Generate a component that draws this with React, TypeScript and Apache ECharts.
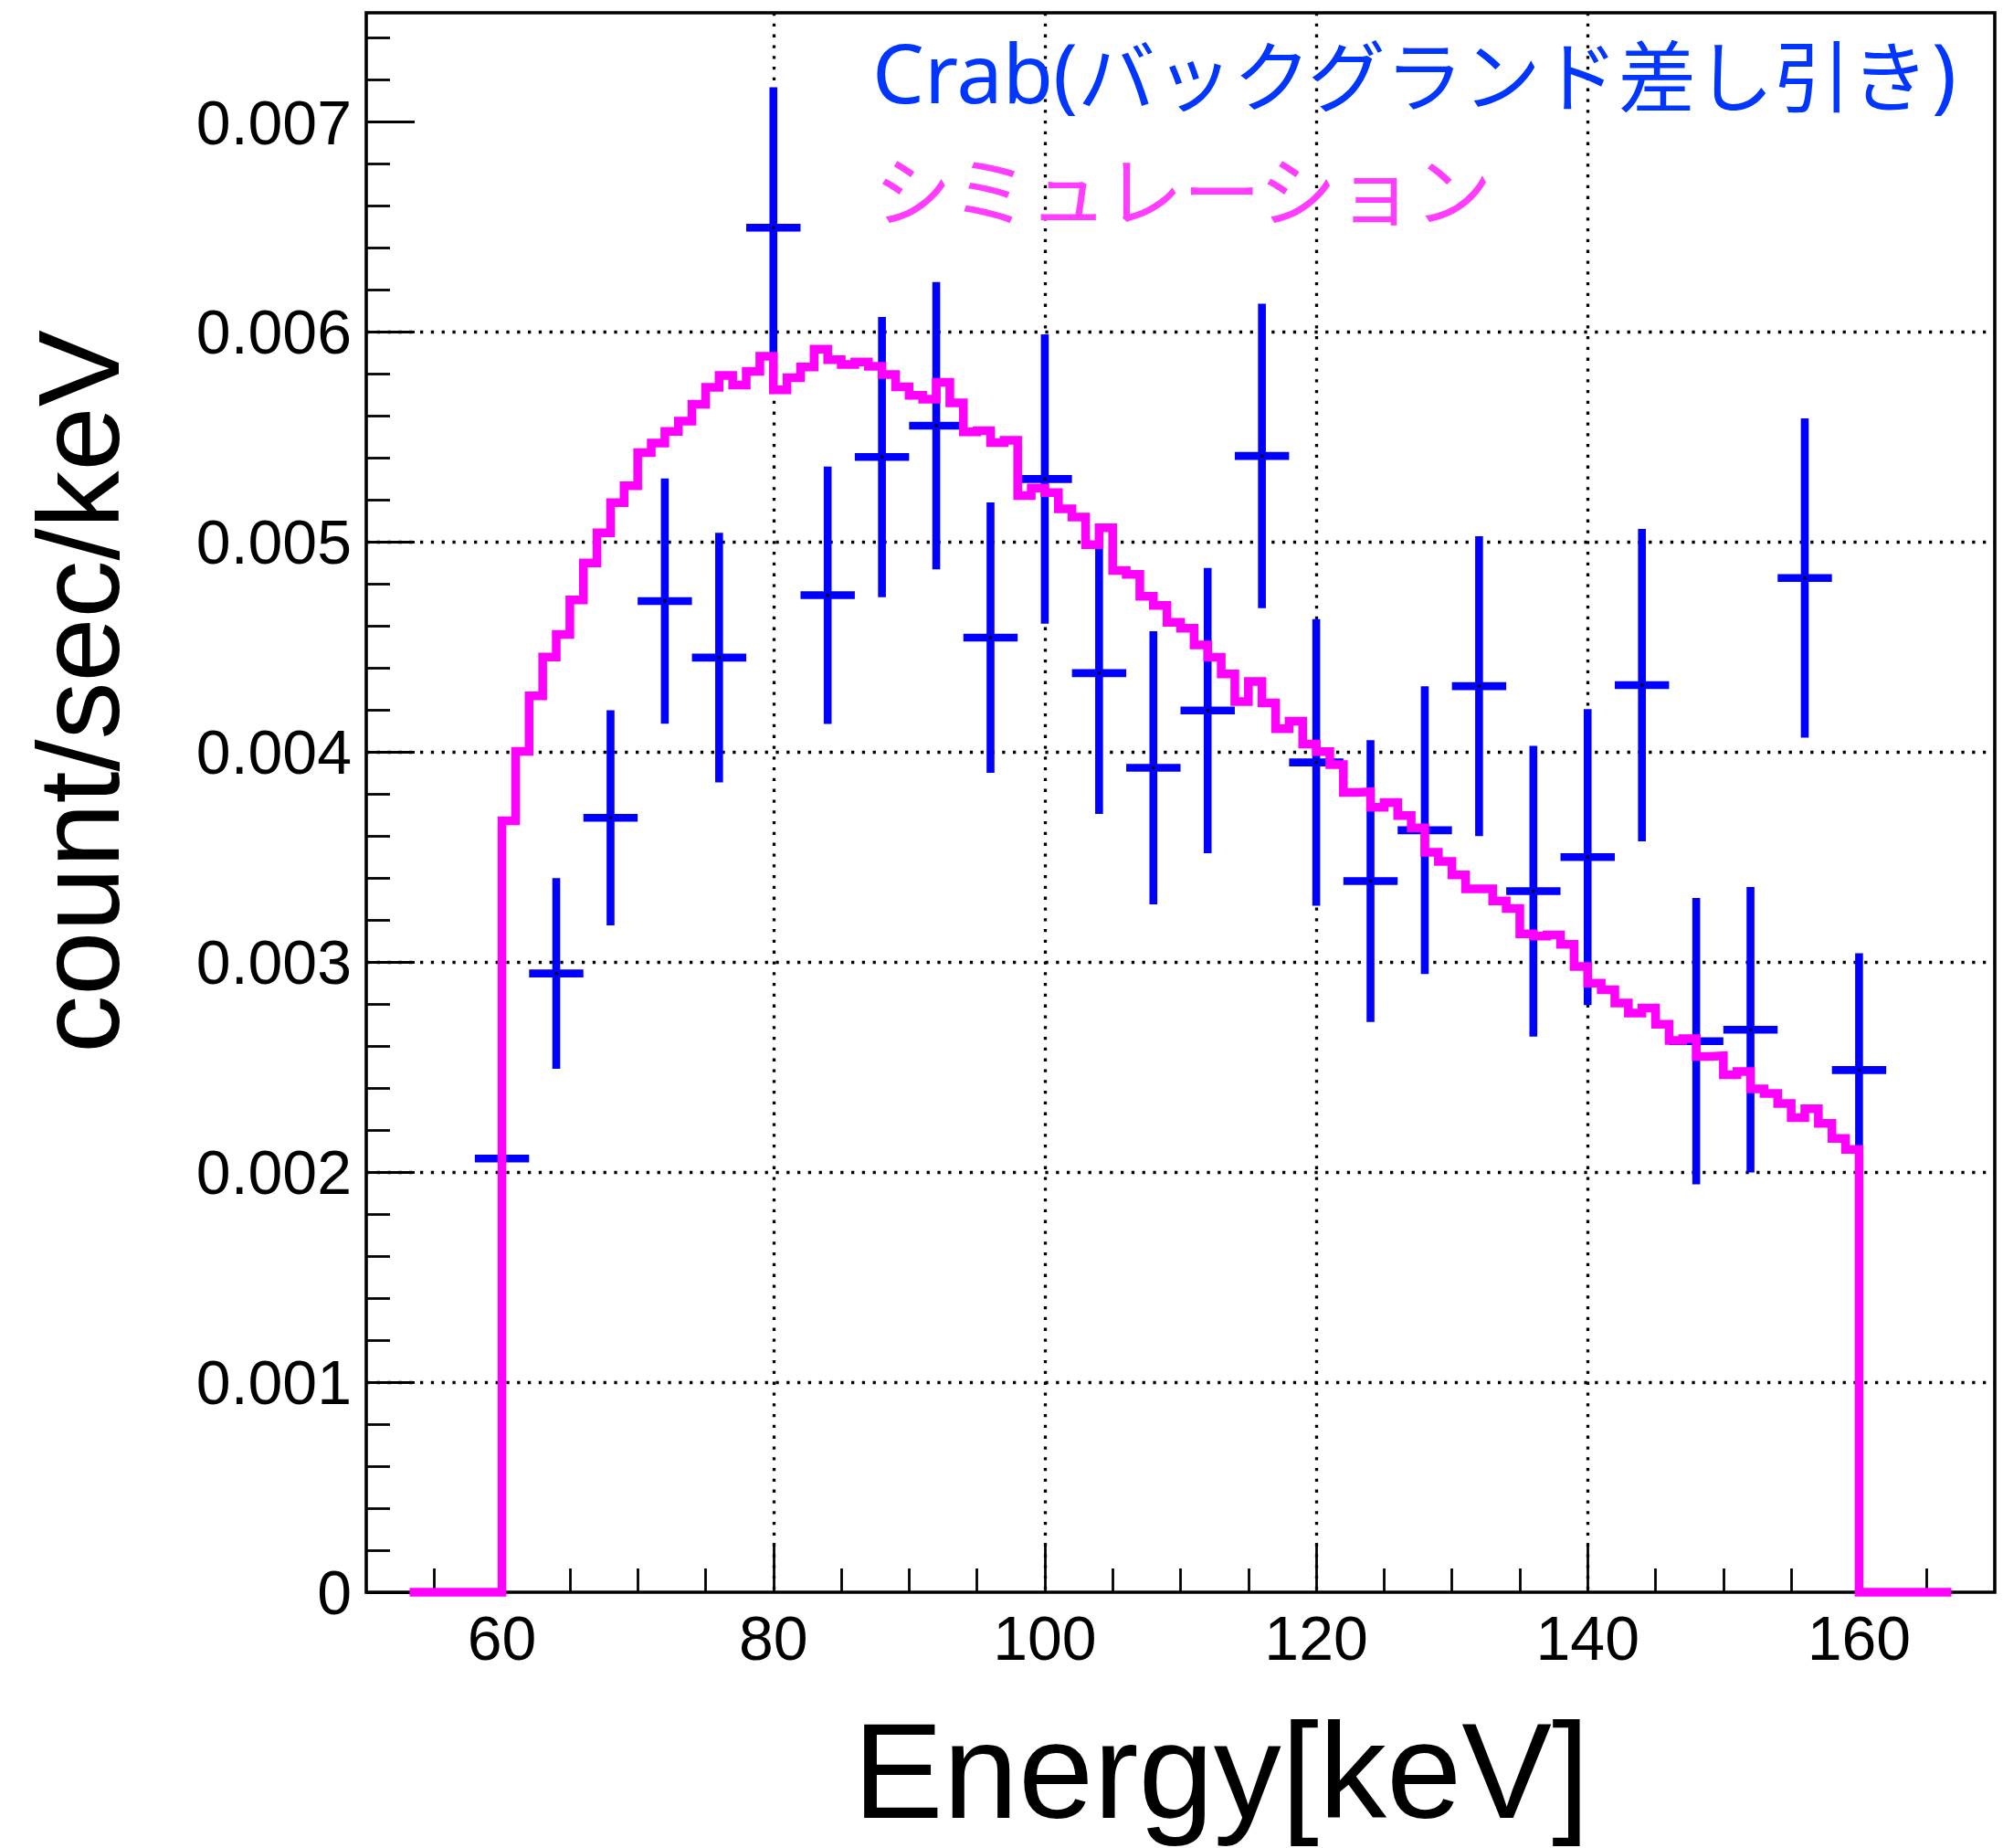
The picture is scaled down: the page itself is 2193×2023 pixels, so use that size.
import React, { useEffect, useRef } from "react";
import * as echarts from "echarts";

// Crab (background subtracted): bin centres [keV], rate [count/sec/keV], symmetric error
const CRAB_ENERGY = [60, 64, 68, 72, 76, 80, 84, 88, 92, 96, 100, 104, 108, 112, 116, 120, 124, 128, 132, 136, 140, 144, 148, 152, 156, 160];
const CRAB_RATE = [
  0.002065, 0.002946, 0.003687, 0.004719, 0.00445, 0.006497, 0.004747, 0.005405, 0.005554, 0.004545,
  0.0053, 0.004376, 0.003925, 0.004198, 0.00541, 0.003951, 0.003386, 0.003628, 0.004314, 0.003338,
  0.0035, 0.004319, 0.002624, 0.002678, 0.004829, 0.002486,
];
const CRAB_ERROR = [
  0.0004, 0.000454, 0.000512, 0.000584, 0.000594, 0.000668, 0.000613, 0.000667, 0.000684, 0.000644,
  0.000689, 0.00067, 0.00065, 0.000679, 0.000725, 0.000682, 0.000671, 0.000685, 0.000714, 0.000692,
  0.000705, 0.000744, 0.000682, 0.00068, 0.00076, 0.000556,
];
const CRAB_BIN_WIDTH = 4;

// Simulation histogram: 1 keV bins starting at 60 keV
const SIM_FIRST_EDGE = 60;
const SIM_BIN_WIDTH = 1;
const SIM_RATE = [
  0.003673, 0.004004, 0.004268, 0.004453, 0.00456, 0.004724, 0.004901, 0.005044, 0.005188, 0.005268,
  0.005426, 0.005471, 0.005527, 0.005576, 0.005656, 0.005737, 0.005793, 0.005748, 0.005813, 0.005885,
  0.005725, 0.005782, 0.005834, 0.005918, 0.005868, 0.005846, 0.005857, 0.005837, 0.005798, 0.005739,
  0.005699, 0.00568, 0.005761, 0.005663, 0.005525, 0.00553, 0.005474, 0.005484, 0.005221, 0.005257,
  0.005235, 0.005158, 0.005119, 0.004988, 0.005068, 0.004865, 0.004846, 0.004742, 0.004698, 0.004618,
  0.00459, 0.00451, 0.004452, 0.004372, 0.004241, 0.004336, 0.004234, 0.004111, 0.004147, 0.004038,
  0.004002, 0.003941, 0.003808, 0.003811, 0.003737, 0.00376, 0.003698, 0.003639, 0.003523, 0.00348,
  0.003415, 0.003349, 0.003349, 0.003291, 0.003255, 0.003135, 0.003124, 0.003129, 0.003085, 0.002979,
  0.0029, 0.002868, 0.002805, 0.002757, 0.002781, 0.002704, 0.002627, 0.002636, 0.002551, 0.002554,
  0.002464, 0.002479, 0.002396, 0.002375, 0.002327, 0.00226, 0.002302, 0.002232, 0.00216, 0.002108,
];
// Empty range of the histogram drawn at zero on both sides
const SIM_LOW_EDGE = 53.2;
const SIM_HIGH_EDGE = 166.8;

const X_RANGE = [50, 170];
const X_MAJOR = [60, 80, 100, 120, 140, 160];
const X_MINOR = [55, 65, 70, 75, 85, 90, 95, 105, 110, 115, 125, 130, 135, 145, 150, 155, 165];
const Y_MAX = 0.00752;
const Y_MAJOR = [0, 0.001, 0.002, 0.003, 0.004, 0.005, 0.006, 0.007];

const LEGEND_CRAB_LATIN = "Crab(";
const LEGEND_CRAB_JP = "バックグランド差し引き";
const LEGEND_CRAB_CLOSE = ")";
const LEGEND_SIM = "シミュレーション";
const X_TITLE = "Energy[keV]";
const Y_TITLE = "count/sec/keV";

const LATIN = "'Liberation Sans', Arial, Helvetica, sans-serif";
const LEGEND_LATIN = "'Noto Sans', 'Liberation Sans', sans-serif";
const CJK = "'Noto Sans CJK JP', 'Noto Sans', sans-serif";

function buildStepPoints(): number[][] {
  const pts: number[][] = [[SIM_LOW_EDGE, 0]];
  SIM_RATE.forEach((v, i) => pts.push([SIM_FIRST_EDGE + i * SIM_BIN_WIDTH, v]));
  pts.push([SIM_FIRST_EDGE + SIM_RATE.length * SIM_BIN_WIDTH, 0]);
  pts.push([SIM_HIGH_EDGE, 0]);
  return pts;
}

export default function App() {
  const ref = useRef<HTMLDivElement>(null);

  useEffect(() => {
    if (!ref.current) return;
    const chart = echarts.init(ref.current, undefined, { renderer: "svg" });
    const grid = { left: 401, top: 14, right: 9, bottom: 280 };
    const tickStyle = { color: "#000", width: 2.8 };
    const gridDots = { color: "#000", width: 3.3, type: [3.3, 8.5] as any };

    const crabData = CRAB_ENERGY.map((e, i) => [e, CRAB_RATE[i], CRAB_ERROR[i]]);

    chart.setOption({
      animation: false,
      backgroundColor: "#fff",
      grid: { ...grid, show: true, borderColor: "#000", borderWidth: 3.6, backgroundColor: "transparent" },
      xAxis: [
        {
          type: "value",
          position: "bottom",
          min: X_RANGE[0],
          max: X_RANGE[1],
          axisLine: { show: false },
          axisTick: { show: true, inside: true, length: 54, customValues: X_MAJOR, lineStyle: tickStyle },
          axisLabel: {
            show: true,
            customValues: X_MAJOR,
            margin: 16,
            color: "#000",
            fontSize: 68,
            fontFamily: LATIN,
          },
          splitLine: { show: true, showMinLine: false, showMaxLine: false, lineStyle: gridDots },
        },
        {
          type: "value",
          position: "bottom",
          min: X_RANGE[0],
          max: X_RANGE[1],
          axisLine: { show: false },
          axisTick: { show: true, inside: true, length: 26, customValues: X_MINOR, lineStyle: tickStyle },
          axisLabel: { show: false },
          splitLine: { show: false },
        },
      ],
      yAxis: {
        type: "value",
        min: 0,
        max: Y_MAX,
        interval: 0.001,
        axisLine: { show: false },
        axisTick: { show: true, inside: true, length: 53, customValues: Y_MAJOR, lineStyle: tickStyle },
        minorTick: { show: true, splitNumber: 5, length: 26, lineStyle: tickStyle },
        axisLabel: {
          show: true,
          customValues: Y_MAJOR,
          margin: 16,
          color: "#000",
          fontSize: 68,
          fontFamily: LATIN,
          formatter: (v: number) => (v === 0 ? "0" : v.toFixed(3)),
        },
        splitLine: { show: true, showMinLine: false, showMaxLine: false, lineStyle: gridDots },
      },
      series: [
        {
          type: "custom",
          name: "crab",
          xAxisIndex: 0,
          yAxisIndex: 0,
          z: 3,
          clip: false,
          data: crabData,
          renderItem: (params: any, api: any) => {
            const x = api.value(0);
            const y = api.value(1);
            const e = api.value(2);
            const top = api.coord([x, y + e]);
            const bot = api.coord([x, y - e]);
            const left = api.coord([x - CRAB_BIN_WIDTH / 2, y]);
            const right = api.coord([x + CRAB_BIN_WIDTH / 2, y]);
            const c = api.coord([x, y]);
            const st = { stroke: "#0000ff", lineWidth: 8.6, lineCap: "butt" };
            return {
              type: "group",
              children: [
                { type: "line", shape: { x1: top[0], y1: top[1], x2: bot[0], y2: bot[1] }, style: st },
                { type: "line", shape: { x1: left[0], y1: left[1], x2: right[0], y2: right[1] }, style: st },
                { type: "rect", shape: { x: c[0] - 1.6, y: c[1] - 1.6, width: 3.2, height: 3.2 }, style: { fill: "#000" } },
              ],
            };
          },
        },
        {
          type: "line",
          name: "sim",
          xAxisIndex: 0,
          yAxisIndex: 0,
          z: 4,
          clip: false,
          step: "end",
          showSymbol: false,
          symbol: "none",
          data: buildStepPoints(),
          lineStyle: { color: "#ff00ff", width: 9.5, join: "miter", cap: "butt" },
        },
      ],
      graphic: [
        {
          type: "text",
          x: 955,
          y: 78,
          z: 10,
          style: {
            text: `{l|${LEGEND_CRAB_LATIN}}{j|${LEGEND_CRAB_JP}}{l|${LEGEND_CRAB_CLOSE}}`,
            fill: "#0036ff",
            align: "left",
            verticalAlign: "middle",
            rich: {
              l: { fill: "#0036ff", fontSize: 90, fontFamily: LEGEND_LATIN },
              j: { fill: "#0036ff", fontSize: 85, fontFamily: CJK },
            },
          },
        },
        {
          type: "text",
          x: 957,
          y: 204,
          z: 10,
          style: {
            text: LEGEND_SIM,
            fill: "#ff3cff",
            font: `85px ${CJK}`,
            align: "left",
            verticalAlign: "middle",
          },
        },
        {
          type: "text",
          x: 1337,
          y: 1938,
          z: 10,
          style: {
            text: X_TITLE,
            fill: "#000",
            font: `148px ${LATIN}`,
            align: "center",
            verticalAlign: "middle",
          },
        },
        {
          type: "text",
          x: 86,
          y: 757,
          rotation: Math.PI / 2,
          z: 10,
          style: {
            text: Y_TITLE,
            fill: "#000",
            font: `126px ${LATIN}`,
            align: "center",
            verticalAlign: "middle",
          },
        },
      ],
    });

    return () => chart.dispose();
  }, []);

  return (
    <div
      ref={ref}
      style={{ position: "absolute", left: 0, top: 0, width: 2193, height: 2023, background: "#fff" }}
    />
  );
}
